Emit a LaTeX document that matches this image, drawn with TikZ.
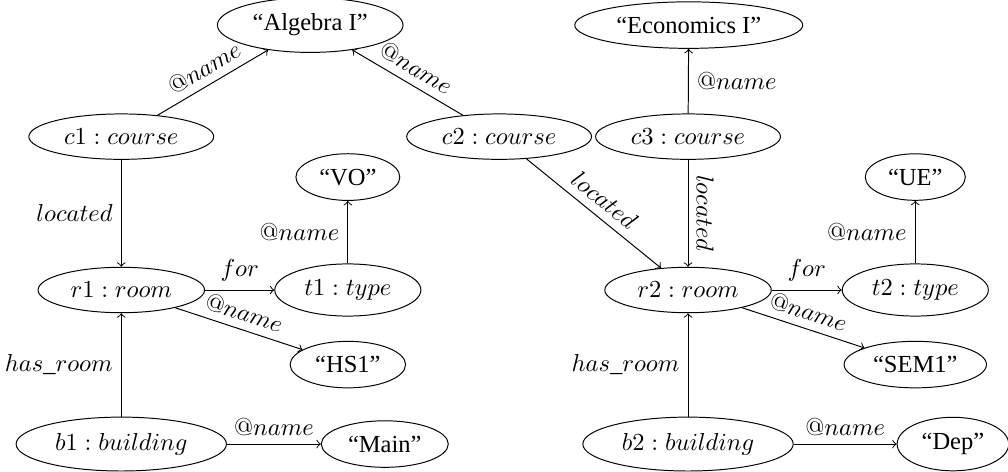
\documentclass[tikz,border=0pt]{standalone}
\usepackage[no-math]{fontspec}
\setmainfont{Liberation Serif}
\usetikzlibrary{shapes.geometric}

\tikzset{
	obj/.style={draw, ellipse},
	lit/.style={draw, ellipse}
}

\begin{document}
\begin{tikzpicture}[->]
	\useasboundingbox (0, 0) rectangle (14.46, 6.77);

	% objects
	\node[obj] (c1) at (1.74, 4.81) {$c1 : course$};
	\node[obj] (c2) at (7.16, 4.81) {$c2 : course$};
	\node[obj] (c3) at (9.87, 4.81) {$c3 : course$};
	\node[obj] (r1) at (1.74, 2.61) {$r1 : room$};
	\node[obj] (r2) at (9.87, 2.61) {$r2 : room$};
	\node[obj] (t1) at (4.99, 2.61) {$t1 : type$};
	\node[obj] (t2) at (13.13, 2.61) {$t2 : type$};
	\node[obj] (b1) at (1.74, 0.40) {$b1 : building$};
	\node[obj] (b2) at (9.87, 0.40) {$b2 : building$};

	% literals
	\node[lit] (alg) at (4.45, 6.41) {“Algebra I”};
	\node[lit] (eco) at (9.88, 6.41) {“Economics I”};
	\node[lit] (vo) at (4.99, 4.23) {“VO”};
	\node[lit] (ue) at (13.13, 4.23) {“UE”};
	\node[lit] (hs1) at (4.99, 1.54) {“HS1”};
	\node[lit] (sem1) at (13.13, 1.54) {“SEM1”};
	\node[lit] (main) at (5.52, 0.40) {“Main”};
	\node[lit] (dep) at (13.67, 0.40) {“Dep”};

	% edges
	\draw (c1) -- (alg) node[midway, above, sloped] {$@name$};
	\draw (c2) -- (alg) node[midway, above, sloped] {$@name$};
	\draw (c3) -- (eco) node[midway, right] {$@name$};
	\draw (c1) -- (r1) node[midway, left] {$located$};
	\draw (c2) -- (r2) node[midway, above, sloped] {$located$};
	\draw (c3) -- (r2) node[midway, above, sloped] {$located$};
	\draw (r1) -- (t1) node[midway, above] {$for$};
	\draw (r2) -- (t2) node[midway, above] {$for$};
	\draw (t1) -- (vo) node[midway, left] {$@name$};
	\draw (t2) -- (ue) node[midway, left] {$@name$};
	\draw (r1) -- (hs1) node[midway, above, sloped] {$@name$};
	\draw (r2) -- (sem1) node[midway, above, sloped] {$@name$};
	\draw (b1) -- (r1) node[midway, left] {$has\_room$};
	\draw (b2) -- (r2) node[midway, left] {$has\_room$};
	\draw (b1) -- (main) node[midway, above] {$@name$};
	\draw (b2) -- (dep) node[midway, above] {$@name$};
\end{tikzpicture}
\end{document}
